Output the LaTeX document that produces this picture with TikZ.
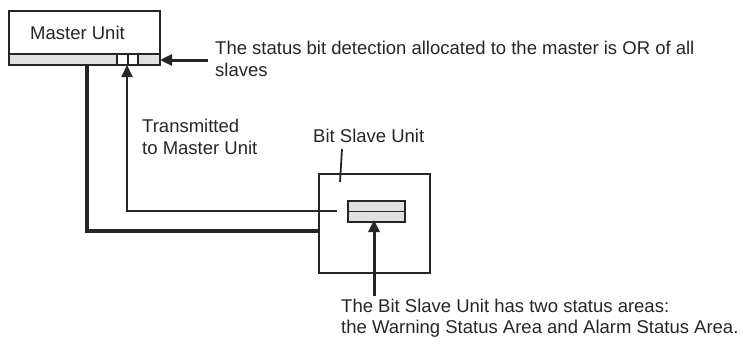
\documentclass[tikz,border=0pt]{standalone}
\usepackage{fontspec}
\setmainfont{Liberation Sans}
\usetikzlibrary{arrows.meta}
\begin{document}
\begin{tikzpicture}[x=1pt,y=-1pt,
  lbl/.style={anchor=base west,inner sep=0pt,font=\fontsize{18.5}{21}\selectfont,text=black!85},
  thin/.style={line width=1.8pt,draw=black!85},
  thick/.style={line width=4.5pt,draw=black!85},
  tip/.style={-{Triangle[length=12pt,width=11pt]}},
  barfill/.style={fill=black!12,draw=black!85,line width=1.3pt}]
\useasboundingbox (0,0) rectangle (743,343);
% master unit
\draw[black!85,line width=1.6pt,fill=white] (9,11) rectangle (160,54);
\draw[barfill] (9,54) rectangle (160,65);
\draw[black!85,line width=1.3pt,fill=white] (117,54) rectangle (138,65);
\draw[black!85,line width=1.3pt] (128,54) -- (128,65);
\node[lbl] (mu) at (30,39) {Master Unit};
\coordinate (barR) at (160,60);
\coordinate (barB) at (127,65);
\coordinate (thickTop) at (87,65);
% status text
\node[lbl] (st1) at (215,54) {The status bit detection allocated to the master is OR of all};
\node[lbl] (st2) at (215,76) {slaves};
\coordinate (arrS) at (208,60);
\draw[line width=3pt,black!85,tip] (arrS) -- (barR);
% slave unit
\draw[black!85,line width=2.8pt] (319,174) rectangle (430,273);
\draw[barfill] (348,201) rectangle (405,222);
\draw[black!85,line width=1.3pt] (348,211.5) -- (405,211.5);
\coordinate (slaveL) at (319,231);
\coordinate (innerL) at (337,211);
\coordinate (innerB) at (374,220);
% thick line
\draw[thick] (thickTop) -- (87,231) -- (slaveL);
% transmitted
\draw[thin,tip,line width=2pt] (innerL) -- (127,211) -- (barB);
\node[lbl] (tr1) at (142,132) {Transmitted};
\node[lbl] (tr2) at (142,154) {to Master Unit};
% bit slave label
\node[lbl] (bs) at (313,142) {Bit Slave Unit};
\coordinate (bsA) at (342,149);
\coordinate (bsB) at (340,182);
\draw[thin] (bsA) -- (bsB);
% bottom
\coordinate (botA) at (374,296);
\draw[line width=3pt,black!85,tip] (botA) -- (innerB);
\node[lbl] (b1) at (341,312) {The Bit Slave Unit has two status areas:};
\node[lbl] (b2) at (341,333) {the Warning Status Area and Alarm Status Area.};
\end{tikzpicture}
\end{document}
